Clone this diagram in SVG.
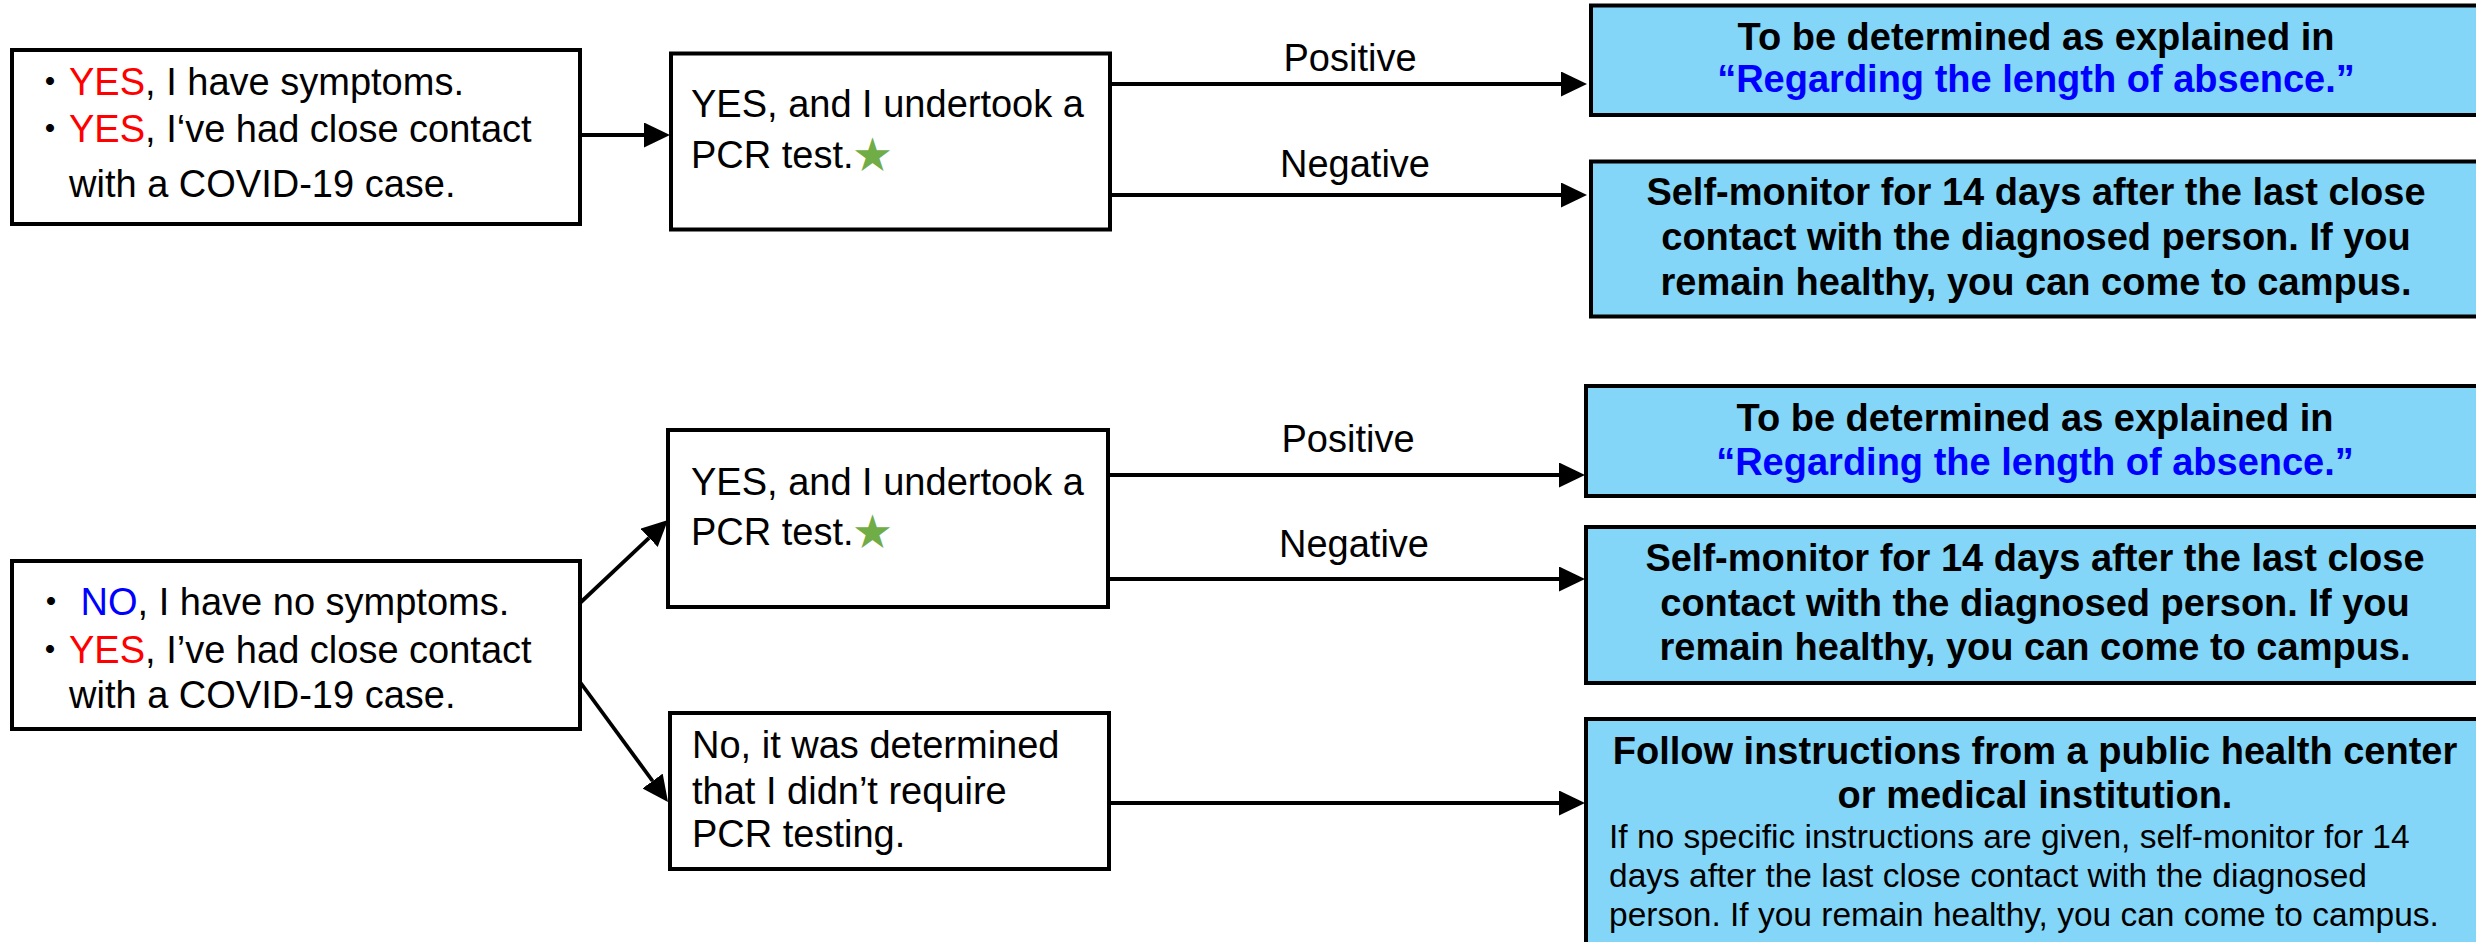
<svg xmlns="http://www.w3.org/2000/svg" width="2476" height="942" viewBox="0 0 2476 942">
<style>
.box{fill:#fff;stroke:#000;stroke-width:4}
.res{fill:#83D6F8;stroke:#000;stroke-width:4}
.t{font-family:"Liberation Sans","Noto Sans CJK JP",sans-serif;font-size:38px;fill:#000}
.c{text-anchor:middle}
.b{font-weight:bold}
.s{font-size:33.5px}
.red{fill:#FF0000}
.blue{fill:#0000FF}
.star{fill:#70AD47;font-family:"Noto Sans CJK JP","DejaVu Sans",sans-serif}
.conn{stroke:#000;stroke-width:3.8;fill:none;marker-end:url(#ah)}
</style>
<defs>
<marker id="ah" markerUnits="userSpaceOnUse" viewBox="0 0 26 25" markerWidth="26" markerHeight="25" refX="0" refY="12.5" orient="auto">
<path d="M0,0 L26,12.5 L0,25 z" fill="#000"/>
</marker>
</defs>
<g id="connectors">
<path class="conn" d="M580,135 H644"/>
<path class="conn" d="M1110,84 H1561"/>
<path class="conn" d="M1110,195 H1561"/>
<path class="conn" d="M580,603 L649.1,537.8"/>
<path class="conn" d="M580,682 L652.6,781"/>
<path class="conn" d="M1108,475 H1559"/>
<path class="conn" d="M1108,579 H1559"/>
<path class="conn" d="M1109,803 H1559"/>
<text class="t c" x="1350" y="71">Positive</text>
<text class="t c" x="1355" y="177">Negative</text>
<text class="t c" x="1348" y="452">Positive</text>
<text class="t c" x="1354" y="557">Negative</text>
</g>
<g id="n1">
<rect class="box" x="12" y="50" width="568" height="174"/>
<text class="t" x="31" y="95">・<tspan class="red">YES</tspan>, I have symptoms.</text>
<text class="t" x="31" y="142">・<tspan class="red">YES</tspan>, I‘ve had close contact</text>
<text class="t" x="69" y="197">with a COVID-19 case.</text>
</g>
<g id="n2">
<rect class="box" x="671" y="53.5" width="439" height="176"/>
<text class="t" x="691" y="117">YES, and I undertook a</text>
<text class="t" x="691" y="168">PCR test.<tspan class="star">★</tspan></text>
</g>
<g id="r1">
<rect class="res" x="1591" y="5.5" width="890" height="109.5"/>
<text class="t c b" x="2036" y="50">To be determined as explained in</text>
<text class="t c b blue" x="2036" y="92">“Regarding the length of absence.”</text>
</g>
<g id="r2">
<rect class="res" x="1591" y="161.5" width="890" height="155"/>
<text class="t c b" x="2036" y="205">Self-monitor for 14 days after the last close</text>
<text class="t c b" x="2036" y="250">contact with the diagnosed person. If you</text>
<text class="t c b" x="2036" y="295">remain healthy, you can come to campus.</text>
</g>
<g id="n3">
<rect class="box" x="12" y="561" width="568" height="168"/>
<text class="t" x="32" y="615">・ <tspan class="blue">NO</tspan>, I have no symptoms.</text>
<text class="t" x="31" y="663">・<tspan class="red">YES</tspan>, I’ve had close contact</text>
<text class="t" x="69" y="708">with a COVID-19 case.</text>
</g>
<g id="n4">
<rect class="box" x="668" y="430" width="440" height="177"/>
<text class="t" x="691" y="495">YES, and I undertook a</text>
<text class="t" x="691" y="545">PCR test.<tspan class="star">★</tspan></text>
</g>
<g id="n5">
<rect class="box" x="670" y="713" width="439" height="156"/>
<text class="t" x="692" y="758">No, it was determined</text>
<text class="t" x="692" y="804">that I didn’t require</text>
<text class="t" x="692" y="847">PCR testing.</text>
</g>
<g id="r3">
<rect class="res" x="1586" y="386" width="895" height="110"/>
<text class="t c b" x="2035" y="431">To be determined as explained in</text>
<text class="t c b blue" x="2035" y="475">“Regarding the length of absence.”</text>
</g>
<g id="r4">
<rect class="res" x="1586" y="527" width="895" height="156"/>
<text class="t c b" x="2035" y="571">Self-monitor for 14 days after the last close</text>
<text class="t c b" x="2035" y="616">contact with the diagnosed person. If you</text>
<text class="t c b" x="2035" y="660">remain healthy, you can come to campus.</text>
</g>
<g id="r5">
<rect class="res" x="1586" y="719" width="895" height="240"/>
<text class="t c b" x="2035" y="764">Follow instructions from a public health center</text>
<text class="t c b" x="2035" y="808">or medical institution.</text>
<text class="t s" x="1609" y="848">If no specific instructions are given, self-monitor for 14</text>
<text class="t s" x="1609" y="887">days after the last close contact with the diagnosed</text>
<text class="t s" x="1609" y="926">person. If you remain healthy, you can come to campus.</text>
</g>
</svg>
